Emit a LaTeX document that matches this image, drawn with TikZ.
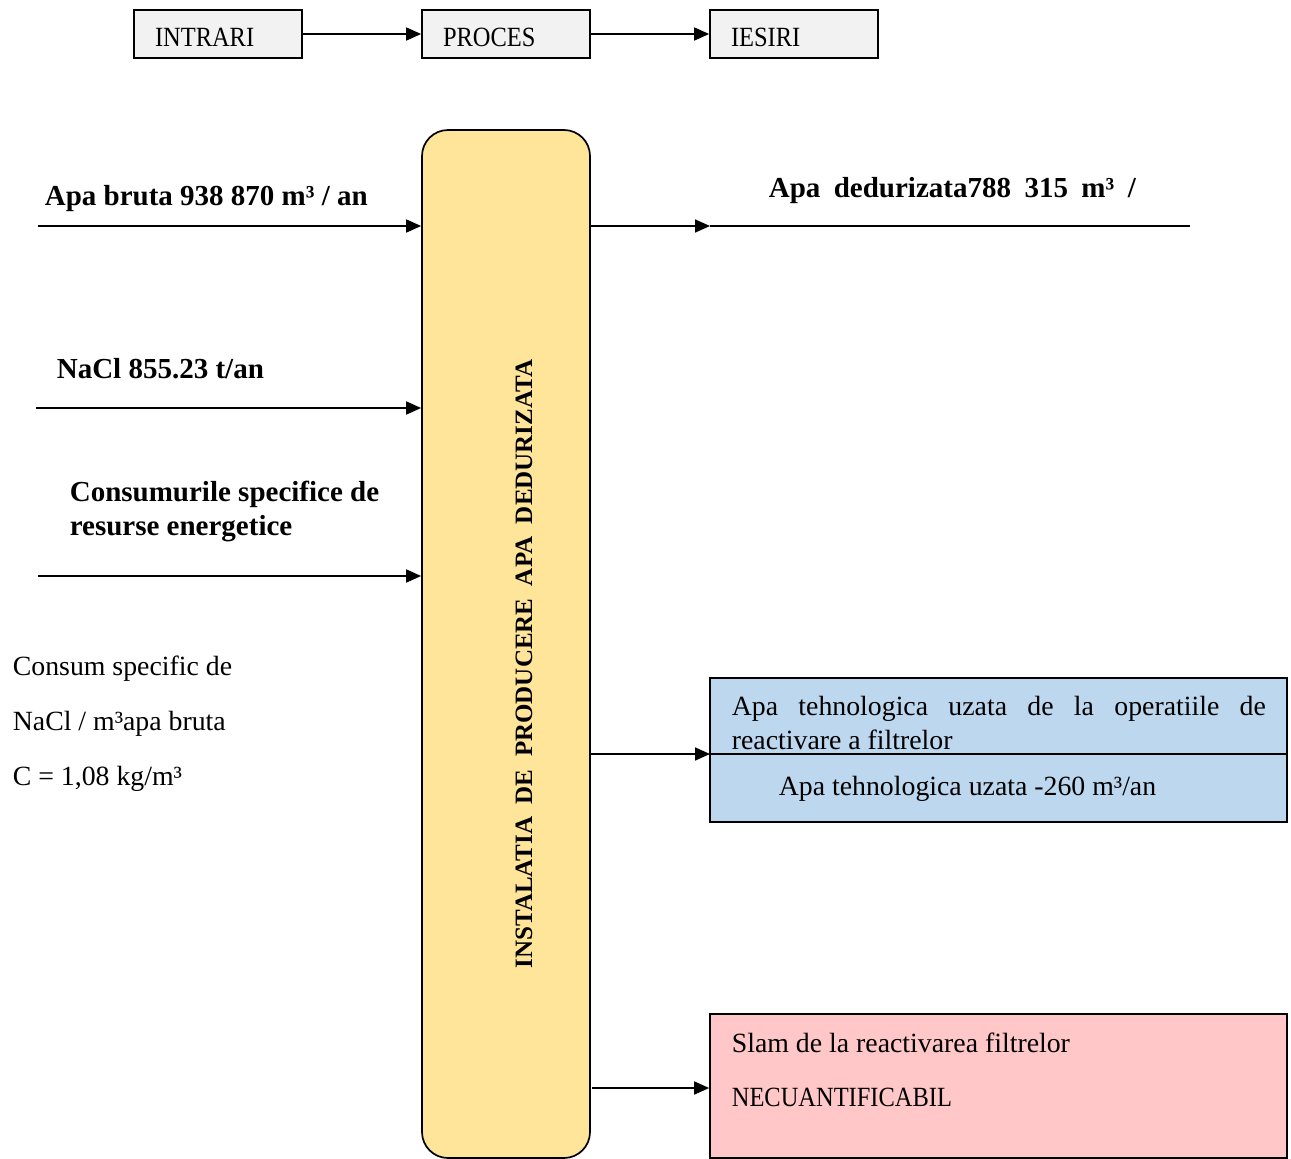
\documentclass[tikz,border=0pt]{standalone}
\usepackage{fontspec}
\setmainfont{Liberation Serif}
\usetikzlibrary{arrows.meta}
\definecolor{boxgray}{HTML}{F2F2F2}
\definecolor{mainyellow}{HTML}{FFE599}
\definecolor{outblue}{HTML}{BDD7EE}
\definecolor{outpink}{HTML}{FFC7C7}
\newcommand{\narrowcaps}[1]{\scalebox{0.88}[1]{#1}}
\begin{document}
\begin{tikzpicture}[x=1pt,y=-1pt, line width=1.7pt,
  txt/.style={anchor=base west, inner sep=0pt, font=\fontsize{27.8}{33}\selectfont},
  btxt/.style={anchor=base west, inner sep=0pt, font=\fontsize{29}{34}\selectfont\bfseries},
  hdr/.style={draw, fill=boxgray, minimum height=48pt, text width=126pt, inner xsep=21pt, inner ysep=0pt, align=left, text height=24pt, text depth=0pt, font=\fontsize{27.8}{33}\selectfont},
  outbox/.style={draw, minimum width=577pt, minimum height=144pt, inner sep=0pt},
  arr/.style={-{Triangle[length=15pt,width=13pt]}},
]
\useasboundingbox (0,0) rectangle (1291,1159);
% header
\node[hdr] (intrari) at (218,34) {\narrowcaps{INTRARI}};
\node[hdr] (proces) at (506,34) {\narrowcaps{PROCES}};
\node[hdr] (iesiri) at (794,34) {\narrowcaps{IESIRI}};
\draw[arr] (intrari) -- (proces);
\draw[arr] (proces) -- (iesiri);
% main process box
\node[draw, fill=mainyellow, rounded corners=26pt, minimum width=168pt, minimum height=1028pt, inner sep=0pt] (main) at (506,644) {};
\node[rotate=90, inner sep=0pt, font=\fontsize{25}{30}\selectfont\bfseries] (title) at (524,664) {INSTALATIA~~DE~~PRODUCERE~~APA~~DEDURIZATA};
% inputs
\coordinate (s1) at (38,226);
\coordinate (s2) at (36,408);
\coordinate (s3) at (38,576);
\draw[arr] (s1) -- (s1 -| main.west);
\draw[arr] (s2) -- (s2 -| main.west);
\draw[arr] (s3) -- (s3 -| main.west);
\node[btxt] (l1) at (44,205) {Apa bruta 938 870 m³ / an};
\node[btxt] (l2) at (56,378) {NaCl 855.23 t/an};
\node[btxt] (l3a) at (69,501) {Consumurile specifice de};
\node[btxt] (l3b) at (69,535) {resurse energetice};
\node[txt] (c1) at (12,675) {Consum specific de};
\node[txt] (c2) at (12,730) {NaCl / m³apa bruta};
\node[txt] (c3) at (12,785) {C = 1,08 kg/m³};
% outputs
\coordinate (o1) at (710,226);
\coordinate (o1end) at (1190,226);
\draw[arr] (main.east |- o1) -- (o1);
\draw (o1) -- (o1end);
\node[btxt] (r1) at (768,197) {\makebox[367pt][s]{Apa dedurizata788 315 m³ /}};
\node[outbox, fill=outblue] (blue) at (998.5,750) {};
\coordinate (bdiv) at (710,754);
\draw[arr] (main.east |- bdiv) -- (bdiv);
\draw (bdiv) -- (bdiv -| blue.east);
\node[txt] (b1) at (731,715) {\makebox[534pt][s]{Apa tehnologica uzata de la operatiile de}};
\node[txt] (b2) at (731,749) {reactivare a filtrelor};
\node[txt] (b3) at (778,795) {Apa tehnologica uzata -260 m³/an};
\node[outbox, fill=outpink] (pink) at (998.5,1086) {};
\coordinate (pin) at (592,1088);
\draw[arr] (pin) -- (pin -| pink.west);
\node[txt] (p1) at (731,1052) {Slam de la reactivarea filtrelor};
\node[txt] (p2) at (731,1106) {\narrowcaps{NECUANTIFICABIL}};
\end{tikzpicture}
\end{document}
